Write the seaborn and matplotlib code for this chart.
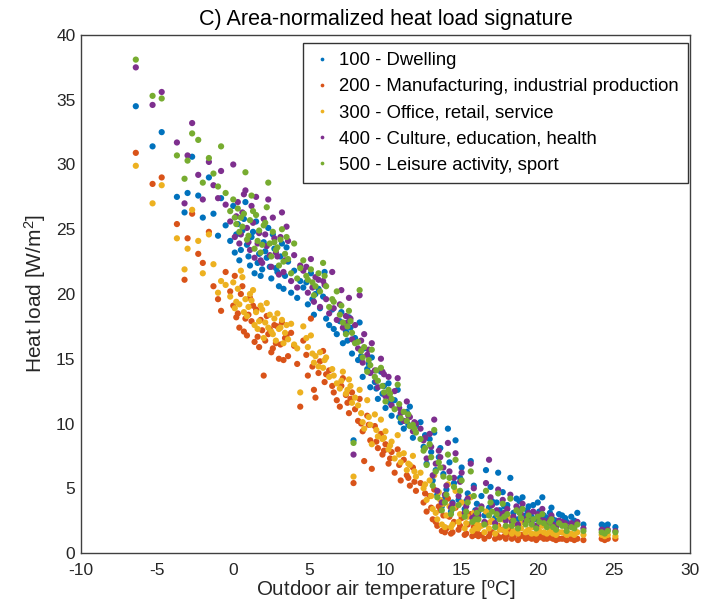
import matplotlib
matplotlib.use("Agg")
import matplotlib.pyplot as plt
import numpy as np
import pandas as pd
import seaborn as sns

# Daily outdoor temperature [oC] and area-normalized heat load [W/m2] per category
temperature = [
    -6.4, -5.3, -4.7, -3.7, -3.2, -3.0, -2.7, -2.3, -2.0, -1.6, -1.3, -1.0, -0.8, -0.5,
    -0.2, 0.0, 0.1, 0.3, 0.4, 0.6, 0.8, 0.9, 1.1, 1.2, 1.4, 1.5, 1.7, 1.9,
    2.0, 2.2, 2.3, 2.5, 2.7, 2.8, 3.0, 3.2, 3.4, 3.6, 3.8, 4.0, 4.2, 4.4,
    4.6, 4.9, 5.1, 5.3, 5.4, 5.7, 5.9, 6.0, 6.3, 6.5, 6.8, 7.0, 7.2, 7.4, 7.6, 7.8, 7.9, 8.0,
    8.2, 8.3, 8.5, 8.6, 8.8, 9.0, 9.1, 9.3, 9.5, 9.7, 9.8, 10.0, 10.2, 10.4, 10.6, 10.8,
    11.0, 11.2, 11.4, 11.6, 11.8, 12.0,
    12.3, 12.5, 12.7, 12.9, 13.1, 13.2, 13.4, 13.5, 13.7, 13.8, 14.0, 14.1, 14.3, 14.5,
    14.6, 14.8, 15.0, 15.2, 15.4, 15.6, 15.7, 15.8, 16.0,
    16.3, 16.5, 16.6, 16.8, 17.0, 17.2, 17.4, 17.5, 17.7, 17.9, 18.0, 18.2, 18.4, 18.6,
    18.7, 18.9, 19.0, 19.2, 19.4, 19.7, 19.9, 20.1, 20.3, 20.6, 20.9, 21.2, 21.4, 21.6,
    21.9, 22.2, 22.6, 23.0,
    24.2, 24.4, 24.6, 25.1,
    0.2, 0.5, 0.7, 1.0, 1.3, 1.6, 1.8, 2.1, 2.4, 2.6, 2.9, 3.1, 3.3, 3.5,
    4.8, 5.2, 5.6, 6.1, 6.6, 7.1, 7.5, 7.7,
    8.4, 8.9, 9.4, 9.9, 10.3, 10.9, 11.5, 11.9,
    12.6, 13.0, 13.3, 13.6, 13.9, 14.2, 14.4, 14.9, 15.3, 15.9,
    16.1, 16.9, 17.3, 17.8, 18.3, 18.8, 19.3, 19.6, 20.0, 20.4, 20.8, 21.0, 21.8, 22.4,
]
dwelling = [
    34.5, 31.4, 32.5, 27.5, 26.3, 27.8, 30.6, 27.6, 25.9, 29.0, 26.2, 24.5, 27.4, 25.3,
    24.1, 26.8, 23.2, 25.4, 22.6, 24.9, 27.1, 23.8, 22.2, 24.4, 21.6, 25.6, 23.1, 21.9,
    24.0, 22.8, 25.1, 21.2, 23.5, 22.0, 20.6, 23.9, 21.4, 22.5, 20.1, 21.8, 19.7, 21.0,
    20.5, 19.2, 21.6, 18.4, 20.0, 18.9, 19.8, 21.7, 17.6, 18.8, 16.9, 17.9, 16.2, 17.1, 18.2, 15.4, 8.7, 16.6,
    14.9, 17.8, 13.6, 15.8, 14.2, 12.8, 15.1, 13.2, 11.9, 14.0, 12.3, 11.2, 13.1, 10.6, 11.8, 12.6,
    10.1, 9.6, 10.9, 11.3, 8.9, 9.8,
    10.1, 8.2, 6.9, 8.8, 5.6, 9.3, 4.5, 7.4, 3.6, 6.1, 4.9, 9.6, 3.2, 5.4,
    8.7, 4.1, 6.6, 3.4, 4.6, 7.1, 3.0, 5.2, 3.8,
    4.4, 2.9, 6.4, 3.5, 4.0, 2.7, 6.2, 3.3, 4.7, 2.8, 3.7, 5.8, 3.1, 4.2,
    2.6, 3.4, 4.3, 2.9, 3.6, 3.7, 2.6, 3.2, 4.3, 2.7, 3.5, 2.5, 3.0, 2.9,
    2.4, 2.8, 3.1, 2.2,
    2.2, 2.1, 2.2, 2.0,
    24.6, 23.4, 25.8, 22.9, 24.8, 22.4, 21.4, 23.3, 22.1, 24.6, 21.7, 22.9, 20.4, 23.6,
    20.9, 19.6, 20.4, 18.1, 17.3, 18.6, 16.4, 17.4,
    15.2, 14.6, 12.7, 12.9, 11.6, 10.5, 9.9, 9.4,
    9.1, 7.8, 6.4, 8.1, 4.2, 7.0, 3.9, 5.8, 4.0, 3.3,
    3.2, 5.1, 3.9, 3.6, 2.7, 4.0, 3.3, 2.8, 3.9, 2.9, 3.1, 2.6, 2.7, 2.5,
]
manufacturing = [
    30.9, 28.5, 29.0, 25.4, 21.1, 24.3, 26.2, 23.1, 22.4, 24.8, 20.6, 19.6, 18.7, 21.7,
    20.2, 19.1, 21.4, 18.5, 17.4, 20.6, 18.1, 16.8, 19.7, 17.9, 16.3, 18.8, 15.9, 17.2,
    13.7, 18.3, 16.9, 15.5, 17.6, 16.2, 15.0, 17.8, 16.6, 15.2, 17.0, 16.0, 14.6, 11.3,
    16.4, 13.7, 18.1, 12.6, 12.0, 14.8, 15.6, 13.2, 14.1, 12.9, 11.8, 11.3, 13.5, 12.2, 10.8, 12.4, 5.4, 11.1,
    10.2, 11.9, 9.4, 7.1, 10.6, 8.7, 6.5, 9.8, 8.1, 9.2, 7.6, 8.4, 6.9, 7.8, 6.2, 8.0,
    5.6, 7.2, 6.0, 5.2, 6.6, 4.8,
    5.4, 3.9, 3.2, 4.4, 2.6, 4.9, 2.1, 3.6, 1.7, 2.9, 1.9, 4.2, 1.5, 2.4,
    3.5, 1.8, 2.7, 1.4, 2.2, 3.0, 1.3, 2.0, 1.6,
    1.4, 1.1, 2.3, 1.3, 1.6, 1.1, 2.1, 1.2, 1.8, 1.1, 1.4, 1.7, 1.2, 1.5,
    1.0, 1.3, 1.4, 1.1, 1.2, 1.3, 1.0, 1.2, 1.4, 1.1, 1.2, 1.0, 1.1, 1.1,
    1.0, 1.1, 1.1, 1.0,
    1.1, 1.0, 1.1, 1.1,
    18.2, 20.0, 17.1, 18.4, 19.1, 16.7, 18.0, 16.4, 17.3, 15.8, 17.5, 16.1, 14.9, 16.8,
    15.3, 14.4, 13.9, 13.8, 12.4, 12.9, 11.6, 11.9,
    10.0, 9.9, 8.6, 7.9, 7.3, 6.8, 5.8, 5.5,
    4.6, 3.5, 2.4, 3.3, 1.6, 2.8, 1.6, 2.1, 1.5, 1.4,
    1.3, 1.6, 1.4, 1.3, 1.1, 1.4, 1.2, 1.1, 1.3, 1.1, 1.2, 1.1, 1.1, 1.0,
]
office = [
    29.9, 27.0, 28.4, 24.3, 21.9, 23.5, 26.5, 24.1, 21.6, 24.6, 22.3, 20.1, 21.0, 20.7,
    19.8, 20.9, 18.9, 20.4, 19.2, 21.3, 19.6, 18.3, 20.0, 19.5, 17.6, 18.6, 17.9, 18.8,
    16.6, 19.3, 17.4, 17.1, 18.1, 16.4, 17.3, 18.0, 17.0, 16.5, 17.7, 16.1, 15.8, 12.4,
    17.5, 15.9, 16.8, 14.7, 15.2, 15.5, 14.3, 14.9, 13.6, 14.2, 13.1, 12.7, 14.0, 12.3, 13.4, 11.6, 5.9, 12.0,
    11.4, 12.6, 10.1, 9.6, 11.8, 9.9, 8.4, 10.7, 9.0, 10.3, 8.8, 9.4, 8.0, 8.6, 7.3, 9.1,
    7.0, 7.7, 6.4, 6.8, 7.5, 5.9,
    6.2, 5.0, 4.1, 5.6, 3.4, 6.0, 2.6, 4.7, 2.2, 3.8, 2.9, 5.3, 2.0, 3.5,
    4.8, 2.4, 3.9, 1.9, 2.8, 4.3, 1.7, 3.1, 2.3,
    2.1, 1.6, 3.2, 1.9, 2.5, 1.5, 2.9, 1.8, 2.6, 1.6, 2.0, 2.7, 1.7, 2.2,
    1.5, 1.9, 2.4, 1.6, 1.8, 2.0, 1.5, 1.7, 2.1, 1.5, 1.8, 1.4, 1.6, 1.6,
    1.4, 1.5, 1.6, 1.4,
    1.4, 1.3, 1.4, 1.3,
    19.4, 21.8, 18.6, 19.0, 20.3, 17.3, 19.1, 17.8, 18.4, 16.9, 18.5, 17.4, 16.2, 17.6,
    16.6, 15.4, 14.4, 15.1, 13.7, 13.3, 12.6, 12.9,
    10.8, 10.5, 9.5, 8.9, 8.3, 7.6, 6.9, 6.3,
    5.3, 4.4, 3.1, 4.1, 2.0, 3.6, 2.2, 3.0, 2.3, 1.9,
    1.9, 2.4, 2.1, 1.8, 1.5, 2.0, 1.7, 1.5, 1.9, 1.6, 1.7, 1.5, 1.5, 1.4,
]
culture = [
    37.5, 34.6, 35.6, 31.7, 27.0, 30.7, 33.2, 29.2, 27.3, 30.2, 28.4, 27.4, 29.5, 26.9,
    25.6, 30.0, 24.4, 27.1, 23.9, 26.3, 28.0, 25.1, 23.4, 26.8, 22.8, 27.5, 24.7, 22.4,
    25.8, 23.7, 27.3, 22.1, 24.3, 23.2, 21.5, 26.3, 22.6, 24.1, 21.0, 23.0, 20.5, 22.2,
    21.8, 20.1, 22.7, 19.4, 21.3, 19.0, 21.0, 20.7, 18.5, 21.7, 18.0, 19.2, 17.4, 18.3, 19.7, 16.5, 7.6, 17.6,
    15.8, 19.9, 14.7, 16.9, 15.3, 13.9, 16.2, 14.1, 12.8, 15.0, 14.0, 12.1, 13.6, 11.4, 12.5, 13.5,
    10.8, 10.2, 11.7, 10.5, 9.4, 10.0,
    9.6, 8.7, 7.3, 9.2, 6.0, 10.3, 4.8, 7.9, 3.9, 6.6, 5.2, 8.5, 3.5, 5.8,
    7.7, 4.4, 6.2, 3.1, 4.2, 6.9, 2.7, 5.0, 3.3,
    3.6, 2.4, 5.4, 7.2, 3.7, 2.3, 4.9, 3.0, 4.1, 2.5, 3.4, 4.5, 2.8, 3.6,
    2.2, 3.0, 3.8, 2.4, 3.1, 3.2, 2.1, 2.7, 3.4, 2.2, 2.9, 2.0, 2.5, 2.4,
    2.0, 2.3, 2.4, 1.9,
    1.8, 1.7, 1.8, 1.7,
    26.0, 24.6, 27.7, 24.0, 25.5, 23.9, 22.6, 24.6, 23.0, 25.9, 22.9, 24.4, 21.7, 25.2,
    22.1, 20.5, 21.1, 19.6, 18.9, 20.3, 17.8, 18.1,
    16.4, 15.7, 13.3, 13.8, 12.0, 11.2, 10.6, 10.1,
    8.9, 8.2, 6.9, 7.4, 4.5, 6.3, 3.8, 5.5, 3.6, 2.9,
    2.9, 4.3, 3.3, 3.1, 2.4, 3.3, 2.7, 2.4, 3.0, 2.5, 2.6, 2.2, 2.3, 2.1,
]
leisure = [
    38.1, 35.3, 35.1, 30.7, 28.9, 30.3, 32.4, 31.9, 28.6, 30.5, 29.3, 28.3, 31.4, 27.8,
    26.4, 27.3, 25.9, 26.6, 24.8, 25.2, 29.4, 24.2, 25.7, 27.6, 23.5, 26.1, 24.9, 23.8,
    25.3, 26.7, 28.6, 22.9, 24.0, 23.4, 22.2, 25.0, 23.1, 22.7, 21.6, 23.9, 21.2, 22.0,
    22.6, 21.1, 21.9, 19.9, 20.6, 20.2, 22.4, 21.4, 19.0, 19.6, 20.2, 18.4, 17.8, 16.9, 18.7, 17.0, 8.5, 16.2,
    16.3, 20.3, 15.1, 15.9, 14.0, 14.5, 15.7, 13.6, 13.3, 14.3, 12.9, 11.7, 12.6, 11.9, 11.1, 13.0,
    10.4, 10.9, 10.2, 9.8, 9.9, 9.3,
    8.8, 7.9, 6.8, 8.4, 5.2, 9.5, 4.3, 7.0, 3.3, 5.9, 4.5, 7.6, 3.0, 5.1,
    7.2, 3.7, 5.6, 2.8, 3.9, 6.3, 2.4, 4.4, 3.1,
    3.4, 2.2, 4.8, 2.9, 3.2, 2.0, 4.6, 2.6, 3.8, 2.1, 3.0, 4.2, 2.5, 3.3,
    1.9, 2.7, 3.4, 2.2, 2.9, 2.6, 1.9, 2.4, 3.0, 2.0, 2.6, 1.8, 2.3, 2.1,
    1.7, 2.0, 2.2, 1.7,
    1.6, 1.5, 1.7, 1.6,
    25.4, 25.9, 26.2, 24.5, 26.4, 24.1, 23.2, 25.5, 23.9, 24.8, 23.6, 24.2, 22.5, 24.4,
    21.4, 20.9, 21.6, 20.6, 19.4, 19.1, 17.5, 17.9,
    15.6, 14.9, 14.1, 12.4, 12.3, 11.5, 10.7, 9.6,
    8.1, 7.4, 6.3, 6.6, 3.9, 5.8, 3.4, 4.8, 3.2, 2.6,
    2.6, 3.9, 3.0, 2.8, 2.1, 3.1, 2.5, 2.2, 2.8, 2.3, 2.4, 2.0, 2.1, 1.9,
]

series_names = [
    "100 - Dwelling",
    "200 - Manufacturing, industrial production",
    "300 - Office, retail, service",
    "400 - Culture, education, health",
    "500 - Leisure activity, sport",
]
series_values = [dwelling, manufacturing, office, culture, leisure]
colors = ["#0072BD", "#D95319", "#EDB120", "#7E2F8E", "#77AC30"]

frames = []
for name, values in zip(series_names, series_values):
    frames.append(pd.DataFrame({"temp": temperature, "load": values, "category": name}))
df = pd.concat(frames, ignore_index=True)

sns.set_style("white")
plt.rcParams["font.family"] = ["Liberation Sans", "DejaVu Sans"]
plt.rcParams["axes.unicode_minus"] = False
text_color = "#262626"

fig = plt.figure(figsize=(7.04, 6.01), dpi=100)
ax = fig.add_axes([81 / 704, 48 / 601, 609 / 704, 518 / 601])

sns.scatterplot(
    data=df, x="temp", y="load", hue="category", hue_order=series_names,
    palette=colors, s=20, linewidth=0, ax=ax,
)

ax.set_xlim(-10, 30)
ax.set_ylim(0, 40)
ax.set_xticks(np.arange(-10, 31, 5))
ax.set_yticks(np.arange(0, 41, 5))
ax.tick_params(length=0, labelsize=12.5, labelcolor=text_color)
ax.tick_params(axis="x", pad=7)
ax.tick_params(axis="y", pad=4)
for spine in ax.spines.values():
    spine.set_color("#404040")
    spine.set_linewidth(1.0)

ax.set_title("C) Area-normalized heat load signature", fontsize=15.5, color="black", pad=7)
ax.set_xlabel("Outdoor air temperature [$\\mathregular{^oC}$]", fontsize=14.8, color=text_color, labelpad=0)
ax.set_ylabel("Heat load [W/m$\\mathregular{^2}$]", fontsize=15, color=text_color, labelpad=6)

leg = ax.legend(
    loc="upper right", bbox_to_anchor=(0.997, 0.985), borderaxespad=0,
    fontsize=13.3, frameon=True, fancybox=False, markerscale=0.6,
    handlelength=1.0, handletextpad=0.45, labelspacing=0.5, borderpad=0.5,
)
leg.get_frame().set_edgecolor("black")
leg.get_frame().set_linewidth(1.0)
for text in leg.get_texts():
    text.set_color("black")

fig.savefig("out.png", dpi=100)
